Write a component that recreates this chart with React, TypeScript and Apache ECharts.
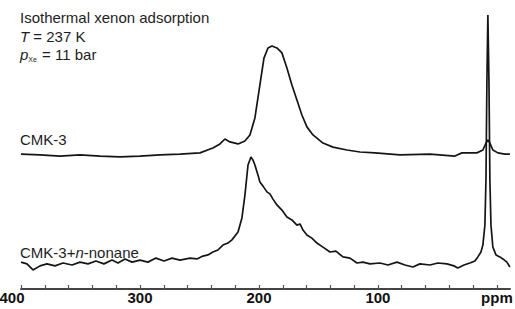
import React, { useEffect, useRef } from "react";
import * as echarts from "echarts";

// Chemical shift axis (ppm) and intensities (arbitrary units, offset traces)
const upperPpm = [400, 384, 367.2, 350.4, 333.6, 316.8, 300, 283.2, 266.4, 249.6, 238.7, 232.8, 228.6, 224.4, 217.6, 211.8, 207.6, 203.4, 199.2, 195.8, 192.4, 189.1, 184.9, 180.7, 176.5, 172.3, 168.1, 163.9, 159.7, 154.6, 146.2, 137.8, 126.1, 115.1, 102.5, 81.5, 56.3, 35.3, 29.4, 16.8, 11.8, 9.2, 7.6, 5.9, 3.4, -0.8, -6.7, -10.9];
const upperInt = [46.7, 46.4, 46.0, 46.4, 46.0, 45.7, 46.0, 46.4, 46.7, 47.1, 48.8, 50.2, 51.9, 50.9, 50.2, 51.2, 53.3, 59.2, 70.6, 79.9, 83.4, 84.1, 83.4, 81.7, 76.5, 70.6, 65.4, 60.2, 56.1, 53.3, 50.5, 49.1, 48.1, 47.4, 47.1, 46.4, 46.7, 46.0, 47.1, 47.1, 48.1, 50.5, 51.6, 50.5, 48.1, 47.1, 46.7, 46.7];

const lowerPpm = [400, 395, 389.9, 384, 378.2, 371.4, 364.7, 357.1, 350.4, 343.7, 337, 330.3, 323.5, 318.5, 312.6, 306.7, 300, 293.3, 286.6, 279.8, 273.1, 266.4, 258, 252.1, 247.1, 242.9, 238.7, 234.5, 230.3, 226.1, 222.7, 217.6, 214.3, 211.8, 209.2, 206.7, 205, 203.4, 200.8, 199.2, 196.6, 193.3, 190.8, 188.2, 184.9, 180.7, 176.5, 172.3, 168.1, 165.5, 163, 159.7, 155.5, 151.3, 146.2, 140.3, 135.3, 129.4, 123.5, 117.6, 112.6, 106.7, 98.3, 91.6, 84, 77.3, 70.6, 64.7, 56.3, 49.6, 42, 36.1, 32.8, 27.7, 22.7, 18.5, 16, 13.4, 11.8, 10.1, 9.2, 8.4, 7.6, 6.7, 5.9, 5.0, 3.4, 0.8, -2.5, -5.0, -8.4, -10.9];
const lowerInt = [9.3, 8.7, 6.6, 8.0, 8.7, 8.0, 9.0, 8.3, 9.3, 8.7, 9.7, 8.7, 10.0, 9.0, 10.4, 9.3, 10.0, 9.3, 10.7, 9.7, 10.7, 10.0, 10.7, 10.4, 11.4, 11.8, 12.8, 13.5, 15.2, 15.9, 17.0, 19.7, 24.6, 32.5, 42.9, 45.7, 44.6, 42.9, 39.4, 37.0, 35.6, 33.6, 32.9, 31.1, 29.1, 27.3, 24.9, 23.9, 22.1, 22.5, 20.4, 18.7, 17.6, 15.9, 14.5, 12.8, 13.1, 11.1, 10.7, 9.0, 9.3, 8.7, 9.0, 8.3, 9.3, 8.3, 7.6, 8.7, 8.3, 9.0, 8.7, 8.0, 7.3, 8.3, 9.0, 9.7, 11.1, 12.8, 15.2, 22.1, 37.7, 72.3, 94.8, 72.3, 37.7, 22.1, 14.5, 11.8, 11.1, 10.4, 9.3, 7.6];

const labelValues = [400, 300, 200, 100, 0];
const tickValues = [400, 380, 360, 340, 320, 300, 280, 260, 240, 220, 200, 180, 160, 140, 120, 100, 80, 60, 40, 20, 0];

const FONT = "'Liberation Sans', Arial, Helvetica, sans-serif";

export default function App() {
  const ref = useRef<HTMLDivElement>(null);
  useEffect(() => {
    if (!ref.current) return;
    const chart = echarts.init(ref.current, null, { renderer: "svg" });
    const upper = upperPpm.map((p, i) => [p, upperInt[i]]);
    const lower = lowerPpm.map((p, i) => [p, lowerInt[i]]);
    const txt = "#1e1e1e";
    chart.setOption({
      animation: false,
      backgroundColor: "#ffffff",
      grid: { left: 21, right: 5, top: 0, bottom: 20, containLabel: false, outerBoundsMode: "none" },
      xAxis: {
        type: "value",
        inverse: true,
        min: -11,
        max: 400,
        splitLine: { show: false },
        axisLine: { show: true, lineStyle: { color: "#444", width: 2 } },
        axisTick: { show: true, inside: true, length: 4, customValues: tickValues, lineStyle: { color: "#555", width: 1.2 } },
        axisLabel: {
          customValues: labelValues,
          margin: 1,
          hideOverlap: false,
          fontFamily: FONT,
          fontSize: 15,
          fontWeight: "bold",
          color: "#111",
          formatter: (v: number) => (v === 0 ? "ppm" : v === 400 ? "{a|400}" : String(v)),
          rich: { a: { fontFamily: FONT, fontSize: 15, fontWeight: "bold", color: "#111", padding: [0, 18, 0, 0] } },
        },
      },
      yAxis: { type: "value", min: 0, max: 100, show: false },
      series: [
        { type: "line", data: upper, showSymbol: false, symbol: "none", lineStyle: { color: "#151515", width: 1.7 } },
        { type: "line", data: lower, showSymbol: false, symbol: "none", lineStyle: { color: "#151515", width: 1.7 } },
      ],
      graphic: [
        { type: "text", left: 20, top: 10, style: { text: "Isothermal xenon adsorption", font: `15px ${FONT}`, fill: txt } },
        {
          type: "text", left: 20, top: 29,
          style: {
            text: "{i|T} = 237 K",
            font: `15px ${FONT}`, fill: txt,
            rich: { i: { fontStyle: "italic", fontSize: 15, fontFamily: FONT, fill: txt } },
          },
        },
        {
          type: "text", left: 20, top: 47,
          style: {
            text: "{i|p}{s|Xe} = 11 bar",
            font: `15px ${FONT}`, fill: txt,
            rich: {
              i: { fontStyle: "italic", fontSize: 15, fontFamily: FONT, fill: txt },
              s: { fontSize: 7, fontFamily: FONT, fill: txt, padding: [9, 1, 0, 0] },
            },
          },
        },
        { type: "text", left: 20, top: 132, style: { text: "CMK-3", font: `15px ${FONT}`, fill: txt } },
        {
          type: "text", left: 20, top: 245,
          style: {
            text: "CMK-3+{i|n}-nonane",
            font: `15px ${FONT}`, fill: txt,
            rich: { i: { fontStyle: "italic", fontSize: 15, fontFamily: FONT, fill: txt } },
          },
        },
      ],
    });
    return () => chart.dispose();
  }, []);
  return <div ref={ref} style={{ width: 515, height: 309, position: "absolute", left: 0, top: 0 }} />;
}
